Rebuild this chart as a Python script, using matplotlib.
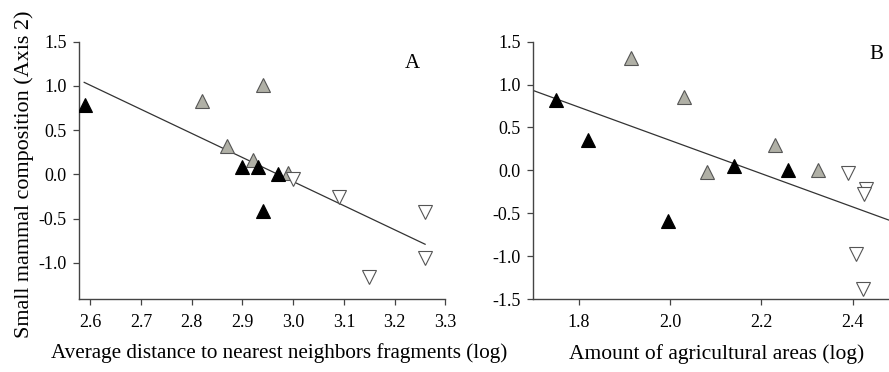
from matplotlib import pyplot as plt
import numpy as np

plt.rcParams['font.family'] = ['Liberation Serif', 'DejaVu Serif']

# panel A: distance to nearest neighbours (log) vs axis 2
a_black_x = [2.59, 2.90, 2.93, 2.97, 2.94]
a_black_y = [0.78, 0.08, 0.08, 0.00, -0.41]
a_gray_x = [2.82, 2.94, 2.87, 2.92, 2.99]
a_gray_y = [0.83, 1.01, 0.32, 0.16, 0.01]
a_white_x = [3.00, 3.09, 3.26, 3.26, 3.15]
a_white_y = [-0.05, -0.26, -0.42, -0.94, -1.16]
a_line_x = [2.588, 3.26]
a_line_y = [1.04, -0.79]

# panel B: agricultural areas (log) vs axis 2
b_black_x = [1.75, 1.82, 1.995, 2.14, 2.258]
b_black_y = [0.82, 0.35, -0.59, 0.05, 0.00]
b_gray_x = [1.915, 2.03, 2.081, 2.23, 2.325]
b_gray_y = [1.31, 0.86, -0.02, 0.30, 0.00]
b_white_x = [2.389, 2.429, 2.426, 2.407, 2.422]
b_white_y = [-0.03, -0.22, -0.28, -0.98, -1.38]
b_line_x = [1.70, 2.48]
b_line_y = [0.93, -0.58]

fig = plt.figure(figsize=(8.89, 3.72), dpi=100)
ax1 = fig.add_axes([0.089, 0.196, 0.412, 0.692])
ax2 = fig.add_axes([0.600, 0.196, 0.400, 0.692])

gray = '#b0b0a6'
ms = 10

def draw(ax, bx, by, gx, gy, wx, wy, lx, ly):
    ax.plot(lx, ly, color='#333333', lw=0.9, zorder=2)
    ax.plot(gx, gy, ls='none', marker='^', ms=ms, mfc=gray, mec='#555555', mew=0.8, zorder=3)
    ax.plot(bx, by, ls='none', marker='^', ms=ms, mfc='black', mec='black', mew=0.8, zorder=3)
    ax.plot(wx, wy, ls='none', marker='v', ms=ms, mfc='white', mec='#555555', mew=0.8, zorder=3)
    for s in ['top', 'right']:
        ax.spines[s].set_visible(False)
    for s in ['left', 'bottom']:
        ax.spines[s].set_color('#444444')
        ax.spines[s].set_linewidth(1.0)
    ax.tick_params(direction='out', length=4, width=0.9, color='#444444', labelsize=13)
    ax.tick_params(axis='x', pad=7)
    ax.tick_params(axis='y', pad=5)

draw(ax1, a_black_x, a_black_y, a_gray_x, a_gray_y, a_white_x, a_white_y, a_line_x, a_line_y)
draw(ax2, b_black_x, b_black_y, b_gray_x, b_gray_y, b_white_x, b_white_y, b_line_x, b_line_y)

ax1.set_xlim(2.578, 3.3)
ax1.set_ylim(-1.41, 1.5)
ax1.set_xticks(np.arange(2.6, 3.31, 0.1))
ax1.set_yticks([-1.0, -0.5, 0.0, 0.5, 1.0, 1.5])
ax1.xaxis.set_major_formatter(plt.FormatStrFormatter('%.1f'))
ax1.yaxis.set_major_formatter(plt.FormatStrFormatter('%.1f'))
ax1.set_xlabel('Average distance to nearest neighbors fragments (log)', fontsize=15.2)
ax1.xaxis.set_label_coords(0.546, -0.17)
ax1.set_ylabel('Small mammal composition (Axis 2)', fontsize=15.9)
ax1.yaxis.set_label_coords(-0.124, 0.485)
ax1.text(0.91, 0.917, 'A', transform=ax1.transAxes, fontsize=15, ha='center', va='center')

ax2.set_xlim(1.70, 2.48)
ax2.set_ylim(-1.5, 1.5)
ax2.set_xticks([1.8, 2.0, 2.2, 2.4])
ax2.set_yticks([-1.5, -1.0, -0.5, 0.0, 0.5, 1.0, 1.5])
ax2.xaxis.set_major_formatter(plt.FormatStrFormatter('%.1f'))
ax2.yaxis.set_major_formatter(plt.FormatStrFormatter('%.1f'))
ax2.set_xlabel('Amount of agricultural areas (log)', fontsize=15.5)
ax2.xaxis.set_label_coords(0.516, -0.175)
ax2.text(0.965, 0.952, 'B', transform=ax2.transAxes, fontsize=15, ha='center', va='center')

fig.savefig('out.png', dpi=100)
